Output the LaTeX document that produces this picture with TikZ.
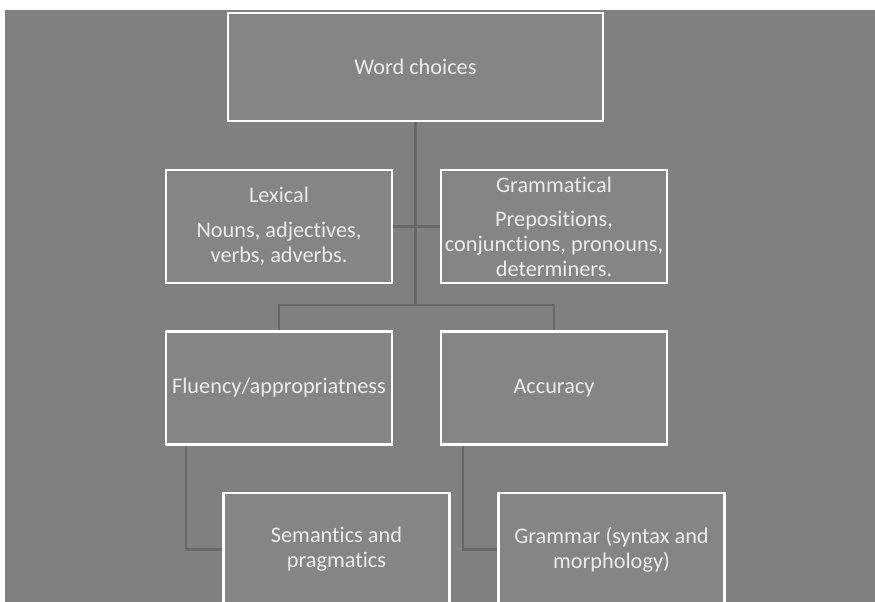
\documentclass[tikz,border=0pt]{standalone}
\usepackage{fontspec}
\setmainfont{Carlito}[RawFeature=-liga]
\definecolor{bggray}{HTML}{7F807F}
\definecolor{boxgray}{HTML}{858585}
\definecolor{linegray}{HTML}{686868}
\begin{document}
\begin{tikzpicture}[x=1pt, y=-1pt,
    box/.style={draw=white, line width=2.2pt, fill=boxgray, text=white!92!black,
        minimum width=226pt, minimum height=113pt, align=center, inner sep=2pt,
        font=\fontsize{22.3}{25}\selectfont},
    link/.style={draw=linegray, line width=2.6pt}]

    \def\W{875};
    \def\H{602};

    % background
    \useasboundingbox (0, 0) rectangle (\W, \H);
    \fill[white] (0, 0) rectangle (\W, \H);
    \fill[bggray] (5, 10) rectangle (\W, \H);
    \clip (5, 10) rectangle (\W, \H);

    % boxes
    \node[box, minimum width=375pt, minimum height=108pt] (word) at (415.5, 67) {Word choices};
    \node[box] (lex) at (279, 226.5) {Lexical\\[10pt]Nouns, adjectives,\\verbs, adverbs.};
    \node[box] (gram) at (554, 226.5) {Grammatical\\[9pt]Prepositions,\\conjunctions, pronouns,\\determiners.};
    \node[box] (flu) at (279, 388) {Fluency/appropriatness};
    \node[box] (acc) at (554, 388) {Accuracy};
    \node[box] (sem) at (336.5, 549.5) {Semantics and\\pragmatics};
    \node[box] (gsm) at (611.5, 549.5) {Grammar (syntax and\\morphology)};

    % connectors
    \coordinate (split) at (415.5, 305);
    \draw[link] (word.south) -- (split);
    \draw[link] (lex.east) -- (gram.west);
    \draw[link] (split) -| (flu.north);
    \draw[link] (split) -| (acc.north);
    \draw[link] ([xshift=21pt]flu.south west) |- (sem.west);
    \draw[link] ([xshift=23pt]acc.south west) |- (gsm.west);
\end{tikzpicture}
\end{document}
